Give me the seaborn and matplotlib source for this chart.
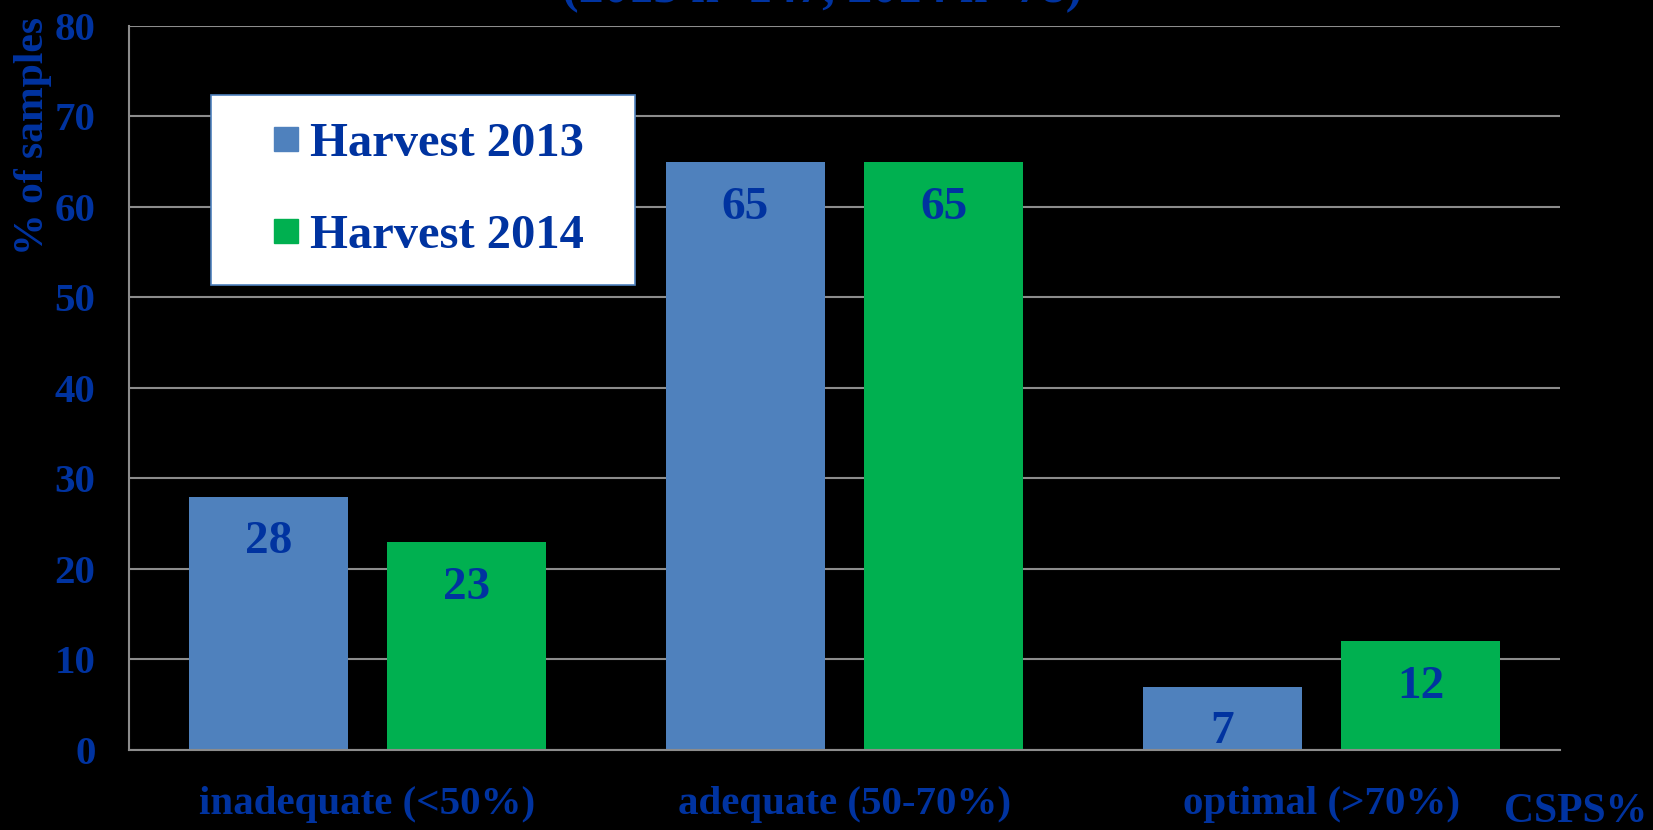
import pandas as pd
import matplotlib
matplotlib.use("Agg")
import matplotlib.pyplot as plt
from matplotlib.lines import Line2D
import seaborn as sns

# Chart data
categories = ["inadequate (<50%)", "adequate (50-70%)", "optimal (>70%)"]
harvests = ["Harvest 2013", "Harvest 2014"]
values_2013 = [28, 65, 7]
values_2014 = [23, 65, 12]
y_ticks = [0, 10, 20, 30, 40, 50, 60, 70, 80]

BLUE_TXT = "#0033A0"
BAR_COLORS = ["#4F81BD", "#00B050"]

df = pd.DataFrame({
    "category": categories * 2,
    "harvest": [harvests[0]] * 3 + [harvests[1]] * 3,
    "value": values_2013 + values_2014,
})

sns.set_style("dark")
plt.rcParams["font.family"] = ["Liberation Serif", "DejaVu Serif"]
plt.rcParams["font.weight"] = "bold"

fig = plt.figure(figsize=(16.53, 8.30), dpi=100, facecolor="black")
ax = fig.add_axes([0.078, 0.0964, 0.8657, 0.8723])
ax.set_facecolor("black")

sns.barplot(data=df, x="category", y="value", hue="harvest", palette=BAR_COLORS,
            width=0.832, gap=0.20, saturation=1, linewidth=0, ax=ax, legend=False)

# value labels inside the bars
for cont in ax.containers:
    for bar in cont:
        h = bar.get_height()
        ax.annotate(f"{h:.0f}", (bar.get_x() + bar.get_width() / 2, h),
                    xytext=(0, -33), textcoords="offset points",
                    ha="center", va="center", fontsize=34,
                    fontweight="bold", color=BLUE_TXT)

ax.set_ylim(0, 80)
ax.set_yticks(y_ticks)
ax.set_xlim(-0.5, 2.5)
ax.grid(axis="y", color="#8c8c8c", linewidth=1.5)
ax.grid(axis="x", visible=False)
ax.set_axisbelow(True)
ax.tick_params(axis="both", length=0, labelsize=29.5, labelcolor=BLUE_TXT)
ax.tick_params(axis="y", pad=24)
ax.tick_params(axis="x", pad=26)
for lab in ax.get_xticklabels() + ax.get_yticklabels():
    lab.set_fontweight("bold")
ax.set_xlabel("")
ax.set_ylabel("")

for side in ["top", "right"]:
    ax.spines[side].set_visible(False)
for side in ["left", "bottom"]:
    ax.spines[side].set_visible(True)
    ax.spines[side].set_color("#8c8c8c")
    ax.spines[side].set_linewidth(1.5)

# legend
handles = [Line2D([], [], marker="s", linestyle="none", markersize=17,
                  markerfacecolor=c, markeredgecolor=c) for c in BAR_COLORS]
leg = ax.legend(handles, [h + "  " for h in harvests], loc="upper left",
                bbox_to_anchor=(0.057, 0.905),
                fontsize=35, frameon=True, fancybox=False, borderpad=0.55,
                labelspacing=1.0, handlelength=2.0, handletextpad=-0.5,
                borderaxespad=0)
leg.get_frame().set_facecolor("white")
leg.get_frame().set_edgecolor("#4F81BD")
leg.get_frame().set_linewidth(1.2)
leg.get_frame().set_alpha(1)
for t in leg.get_texts():
    t.set_color(BLUE_TXT)
    t.set_fontweight("bold")

# texts around the plot
fig.text(0.020, 1 - 136 / 830, "% of samples", rotation=90, ha="center", va="center",
         fontsize=30, fontweight="bold", color=BLUE_TXT)
fig.text(1576 / 1653, 1 - 812 / 830, "CSPS%", ha="center", va="center",
         fontsize=30, fontweight="bold", color=BLUE_TXT)
fig.text(822 / 1653, 1 - 2 / 830, "(2013 n=147, 2014 n=78)", ha="center", va="baseline",
         fontsize=36, fontweight="bold", color=BLUE_TXT)

fig.savefig("out.png", dpi=100, facecolor="black")
